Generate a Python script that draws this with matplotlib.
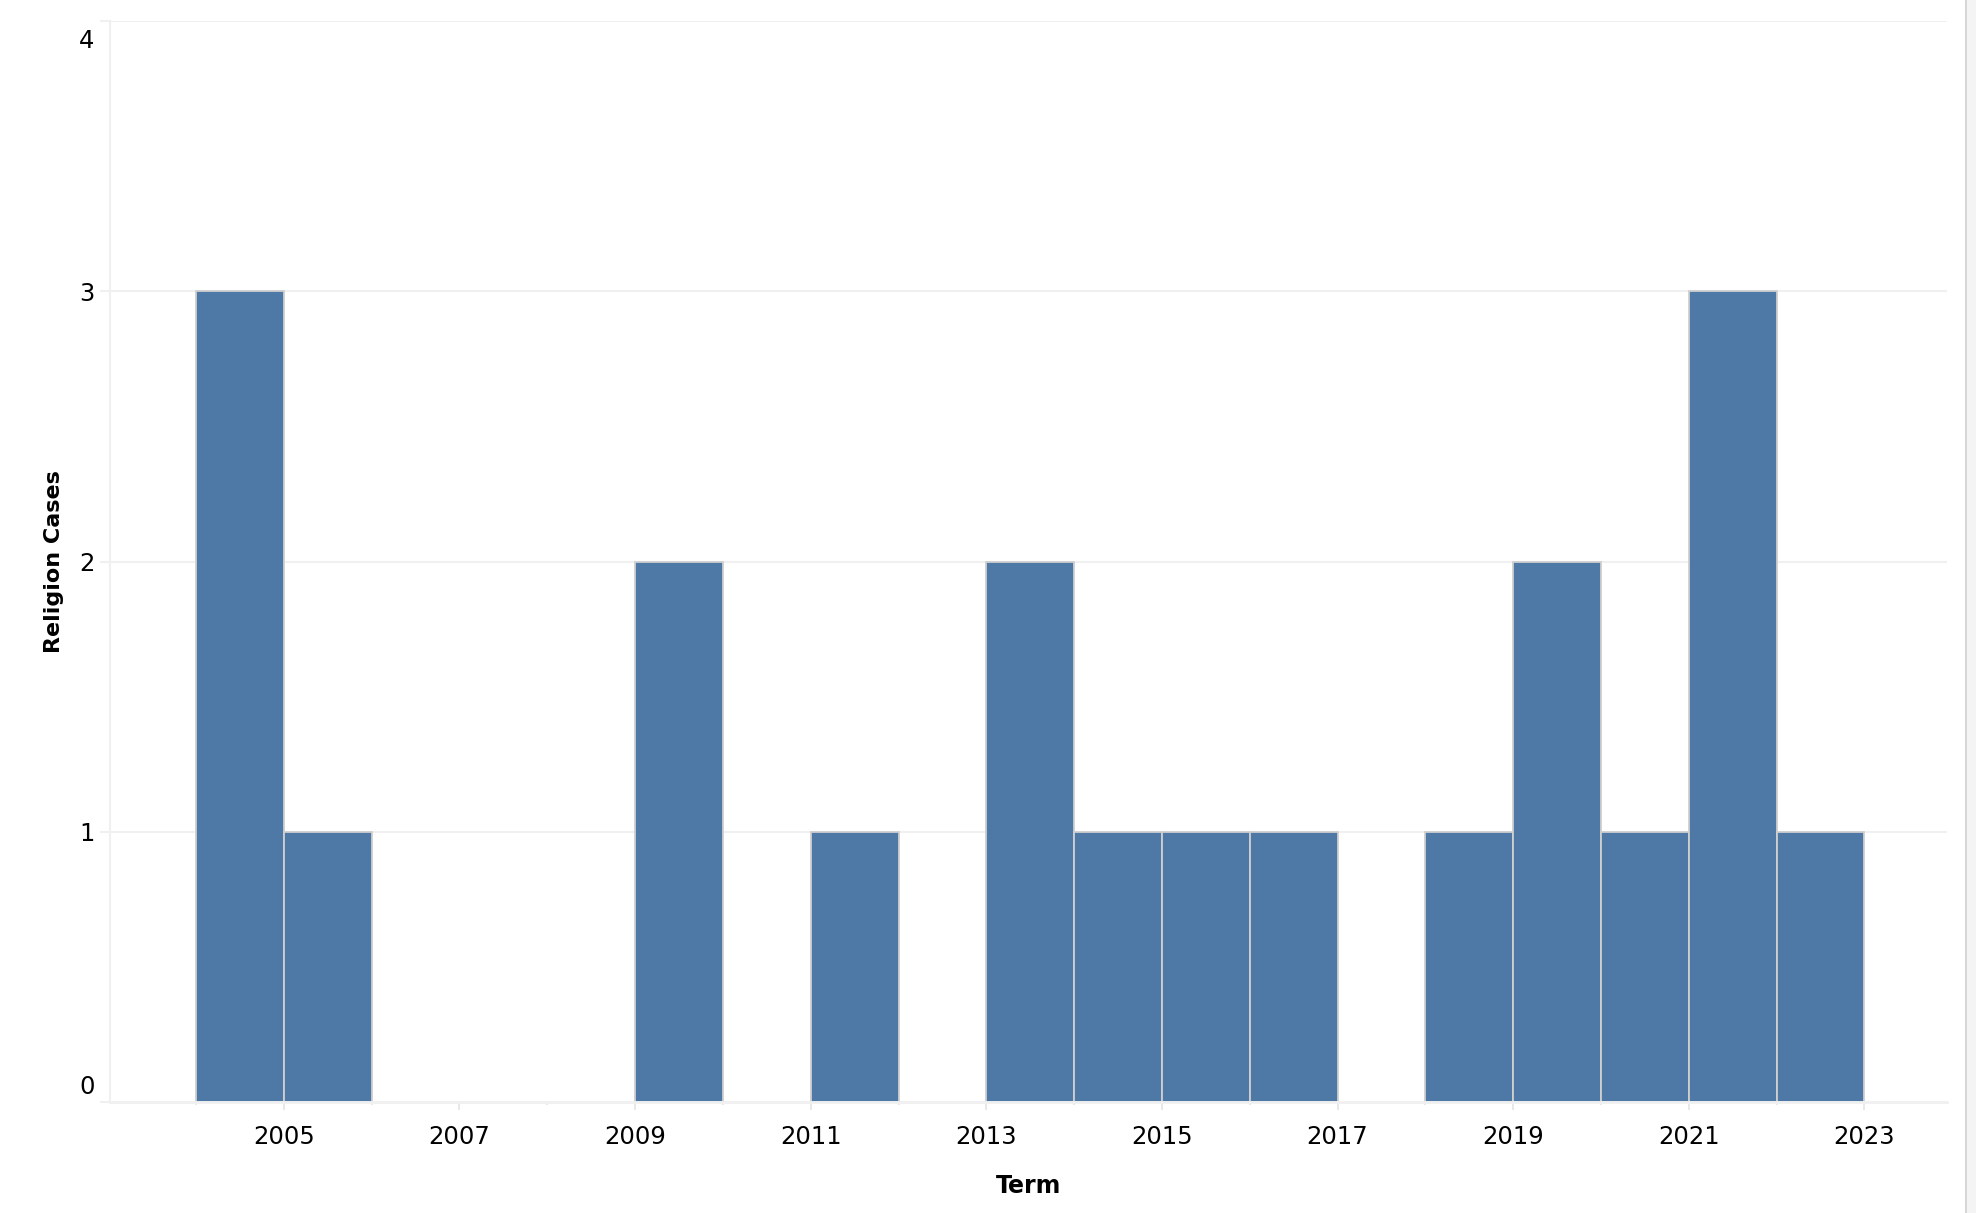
import matplotlib.pyplot as plt
import matplotlib.transforms as mtransforms
from matplotlib.patches import Rectangle

# --- data ---
terms = [2004, 2005, 2009, 2011, 2013, 2014, 2015, 2016, 2018, 2019, 2020, 2021, 2022]
cases = [3, 1, 2, 1, 2, 1, 1, 1, 1, 2, 1, 3, 1]
year_labels = [2005, 2007, 2009, 2011, 2013, 2015, 2017, 2019, 2021, 2023]
y_ticks = [0, 1, 2, 3, 4]

BAR_COLOR = "#4e79a7"
GRID = "#f0f0f0"

fig = plt.figure(figsize=(19.76, 12.13), dpi=100)
ax = fig.add_axes([110 / 1976, 1 - 1102 / 1213, (1947 - 110) / 1976, (1102 - 21) / 1213])

ax.bar(terms, cases, width=1, align="edge", color=BAR_COLOR,
       edgecolor="#cfcfcf", linewidth=1.3, zorder=3)

ax.set_xlim(2003.02, 2023.94)
ax.set_ylim(0, 4)

# gridlines
for y in y_ticks[1:]:
    ax.axhline(y, color=GRID, linewidth=1.5, zorder=1)

for side in ["top", "right"]:
    ax.spines[side].set_visible(False)
ax.spines["left"].set_color(GRID)
ax.spines["left"].set_linewidth(1.5)
ax.spines["bottom"].set_color(GRID)
ax.spines["bottom"].set_linewidth(2)
ax.spines["bottom"].set_zorder(4)

# ticks
ax.set_xticks(year_labels)
ax.set_xticklabels([str(y) for y in year_labels])
ax.set_xticks(list(range(2004, 2024, 2)), minor=True)
ax.tick_params(axis="x", which="major", length=5.8, width=1.3, color="#e6e6e6",
               pad=11, labelsize=17.5)
ax.tick_params(axis="x", which="minor", length=2.5, width=1.3, color="#e6e6e6")

ax.set_yticks(y_ticks)
ax.set_yticklabels([str(y) for y in y_ticks])
ax.tick_params(axis="y", length=7.2, width=1.5, color=GRID, pad=4, labelsize=17.5)

labels = ax.get_yticklabels()
labels[-1].set_va("top")
labels[-1].set_transform(labels[-1].get_transform() +
                         mtransforms.ScaledTranslation(0, -8 / 100, fig.dpi_scale_trans))
labels[0].set_va("bottom")
labels[0].set_transform(labels[0].get_transform() +
                        mtransforms.ScaledTranslation(0, 3 / 100, fig.dpi_scale_trans))

ax.set_xlabel("Term", fontsize=17, fontweight="bold", labelpad=18)
ax.set_ylabel("Religion Cases", fontsize=16, fontweight="bold", labelpad=11)

# scrollbar strip on the right edge
fig.patches.append(Rectangle((1965 / 1976, 0), 11 / 1976, 1, transform=fig.transFigure,
                             facecolor="#f4f4f4", edgecolor="none"))
fig.patches.append(Rectangle((1965 / 1976, 0), 2 / 1976, 1, transform=fig.transFigure,
                             facecolor="#d6d6d6", edgecolor="none"))

fig.savefig("out.png", dpi=100)
